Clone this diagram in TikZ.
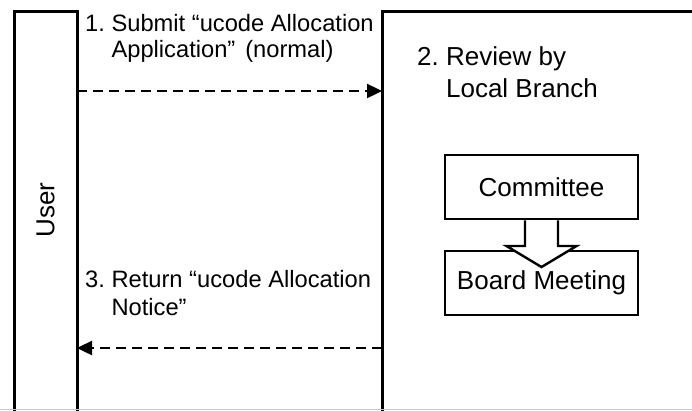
\documentclass[tikz,border=0pt]{standalone}
\usepackage{fontspec}
\setmainfont{Liberation Sans}
\usetikzlibrary{arrows.meta,calc}
\frenchspacing
\begin{document}
\begin{tikzpicture}[x=1pt,y=-1pt,
  lane/.style={draw, line width=3pt, inner sep=0pt, outer sep=0pt},
  stepbox/.style={draw, line width=2.6pt, inner sep=0pt, outer sep=0pt,
    minimum width=193pt, minimum height=64pt, font=\fontsize{26}{30}\selectfont},
  flow/.style={line width=2.4pt, dash pattern=on 10pt off 6pt,
    -{Triangle[length=15pt,width=14pt]}},
  blockarrow/.style={draw, fill=white, line width=2.4pt, line join=miter},
  lblL/.style={inner sep=0pt, anchor=base west, font=\fontsize{23.7}{26}\selectfont},
  lblB/.style={inner sep=0pt, anchor=base west, font=\fontsize{23.7}{28.5}\selectfont},
  lblR/.style={inner sep=0pt, anchor=base west, font=\fontsize{26}{32}\selectfont}]
\useasboundingbox (0,0) rectangle (692,410);
\clip (0,0) rectangle (692,410);
\fill[white] (0,0) rectangle (692,410);

% lanes
\node[lane, minimum width=63pt, minimum height=440pt, anchor=north west] (user) at (14,11) {};
\node[lane, minimum width=340pt, minimum height=440pt, anchor=north west] (branch) at (382,11) {};
\node[rotate=90, inner sep=0pt, font=\fontsize{26}{30}\selectfont] (usertxt) at (45.5,210) {User};

% review steps
\node[stepbox, anchor=north west] (comm) at (445,155) {Committee};
\node[stepbox, anchor=north west] (board) at (445,251) {Board Meeting};
\draw[blockarrow]
  ($(comm.south)+(-16.5,1.3)$) -- ($(board.north)+(-16.5,-5)$)
  -- ($(board.north)+(-35,-5)$) -- ($(board.north)+(0,16)$)
  -- ($(board.north)+(35,-5)$) -- ($(board.north)+(16.5,-5)$)
  -- ($(comm.south)+(16.5,1.3)$);

% messages
\coordinate (m1) at (0,91);
\coordinate (m3) at (0,348);
\draw[flow] (user.east |- m1) -- (branch.west |- m1);
\draw[flow] (branch.west |- m3) -- (user.east |- m3);

% labels
\node[lblL] (t1) at (85,31) {\begin{tabular}[t]{@{}l@{}}1. Submit “ucode Allocation\\\hphantom{1. }Application”\hspace{10pt}(normal)\end{tabular}};
\node[lblR] (t2) at (417,65) {\begin{tabular}[t]{@{}l@{}}2. Review by\\\hphantom{2. }Local Branch\end{tabular}};
\node[lblB] (t3) at (85,287) {\begin{tabular}[t]{@{}l@{}}3. Return “ucode Allocation\\\hphantom{3. }Notice”\end{tabular}};

\draw[gray!45, line width=1pt] (0,409.5) -- (692,409.5);
\end{tikzpicture}
\end{document}
